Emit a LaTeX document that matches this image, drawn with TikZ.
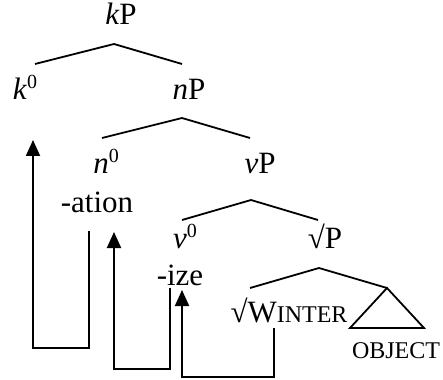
\documentclass[tikz,border=0pt]{standalone}
\usepackage{fontspec}
\setmainfont{Liberation Serif}
\usetikzlibrary{arrows.meta}
% superscript zero on head labels
\newcommand{\zsup}{\raisebox{11pt}{\fontsize{20}{20}\selectfont 0}}
% small capitals imitation
\newcommand{\fsc}[1]{{\fontsize{24}{24}\selectfont #1}}
\begin{document}
\begin{tikzpicture}[x=1pt,y=-1pt,
  lbl/.style={anchor=base,inner sep=0pt,font=\fontsize{31}{36}\selectfont},
  branch/.style={line width=1.8pt},
  mover/.style={line width=2pt,line join=miter,-{Triangle[width=14pt,length=16pt]}}]
\useasboundingbox (0,0) rectangle (443,379);

% labels
\node[lbl] (kP)   at (121,25)  {\textit{k}P};
\node[lbl] (k0)   at (25,100)  {\textit{k}\zsup};
\node[lbl] (nP)   at (189,100) {\textit{n}P};
\node[lbl] (n0)   at (106,173) {\textit{n}\zsup};
\node[lbl] (vP)   at (260,173) {\textit{v}P};
\node[lbl] (ation) at (97,212) {-ation};
\node[lbl] (v0)   at (185,248) {\textit{v}\zsup};
\node[lbl] (rP)   at (325,248) {√P};
\node[lbl] (ize)  at (180,285) {-ize};
\node[lbl] (root) at (289,322) {√W\fsc{INTER}};
\node[lbl,font=\fontsize{24}{28}\selectfont] (obj) at (396,358) {OBJECT};

% branch points
\coordinate (kPt) at (114,44);  \coordinate (kPl) at (35,64);   \coordinate (kPr) at (182,64);
\coordinate (nPt) at (182,118); \coordinate (nPl) at (102,138); \coordinate (nPr) at (250,138);
\coordinate (vPt) at (251,200); \coordinate (vPl) at (182,220); \coordinate (vPr) at (318,220);
\coordinate (rPt) at (319,268); \coordinate (rPl) at (250,288); \coordinate (rPr) at (387,288);
\coordinate (triL) at (350,328); \coordinate (triR) at (424,328);

\draw[branch] (kPl) -- (kPt) -- (kPr);
\draw[branch] (nPl) -- (nPt) -- (nPr);
\draw[branch] (vPl) -- (vPt) -- (vPr);
\draw[branch] (rPl) -- (rPt) -- (rPr);
\draw[branch,line join=miter] (rPr) -- (triL) -- (triR) -- cycle;

% head movement paths
\coordinate (m1a) at (89,231);  \coordinate (m1b) at (89,348);
\coordinate (m1c) at (33,348);  \coordinate (m1d) at (33,140);
\coordinate (m2a) at (170,288); \coordinate (m2b) at (170,369);
\coordinate (m2c) at (114,369); \coordinate (m2d) at (114,232);
\coordinate (m3a) at (274,328); \coordinate (m3b) at (274,377);
\coordinate (m3c) at (182,377); \coordinate (m3d) at (182,290);

\draw[mover] (m1a) -- (m1b) -- (m1c) -- (m1d);
\draw[mover] (m2a) -- (m2b) -- (m2c) -- (m2d);
\draw[mover] (m3a) -- (m3b) -- (m3c) -- (m3d);
\end{tikzpicture}
\end{document}
